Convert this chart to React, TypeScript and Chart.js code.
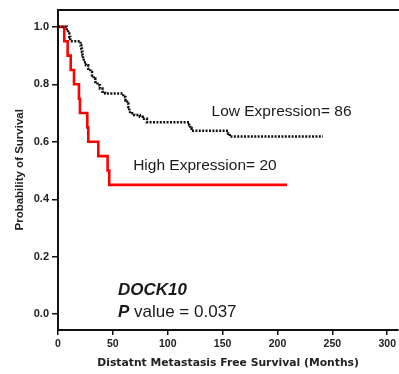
import React, { useEffect, useRef } from "react";
import { Chart, registerables } from "chart.js";

Chart.register(...registerables);

// High expression (n=20) survival steps
const highMonths = [0, 5.7, 8.8, 11.6, 14.6, 19.1, 20, 26.7, 27.6, 36.7, 45.2, 46.7, 208.6];
const highSurv = [1.0, 0.95, 0.9, 0.85, 0.8, 0.75, 0.7, 0.65, 0.6, 0.55, 0.5, 0.45, 0.45];

// Low expression (n=86) survival steps
const lowMonths = [0, 8, 9.2, 10.3, 11.2, 20.5, 21.2, 21.8, 22.3, 22.8, 23.5, 25.5, 27.5, 29.5, 31, 32.5, 34, 36, 38.2, 40.5, 43,
  59.5, 61.5, 63, 64.2, 65, 65.7, 69.5, 74.6, 77.3, 81, 119.5, 120.5, 121.7, 155, 156.5, 241.4];
const lowSurv = [1.0, 0.988, 0.977, 0.965, 0.95, 0.936, 0.925, 0.913, 0.901, 0.889, 0.877, 0.866, 0.854, 0.843, 0.831, 0.82, 0.808, 0.797, 0.785, 0.774, 0.768,
  0.756, 0.744, 0.732, 0.72, 0.708, 0.699, 0.693, 0.687, 0.68, 0.668, 0.658, 0.648, 0.638, 0.628, 0.618, 0.618];

const xTicks = [0, 50, 100, 150, 200, 250, 300];
const yTicks = [0.0, 0.2, 0.4, 0.6, 0.8, 1.0];

const lowLabel = "Low Expression= 86";
const highLabel = "High Expression= 20";
const geneLabel = "DOCK10";
const pLabel = "P";
const pValueLabel = " value = 0.037";
const xTitle = "Distatnt Metastasis Free Survival (Months)";
const yTitle = "Probability of Survival";

export default function App() {
  const ref = useRef<HTMLCanvasElement | null>(null);
  useEffect(() => {
    if (!ref.current) return;
    const textPlugin = {
      id: "texts",
      afterDatasetsDraw(chart: any) {
        const { ctx, scales } = chart;
        const x = scales.x;
        const y = scales.y;
        ctx.save();
        ctx.fillStyle = "#1a1a1a";
        ctx.textBaseline = "middle";
        ctx.textAlign = "left";
        ctx.font = "15.5px 'Liberation Sans', Arial, sans-serif";
        ctx.fillText(lowLabel, x.getPixelForValue(139.9), y.getPixelForValue(0.704));
        ctx.fillText(highLabel, x.getPixelForValue(68.5), y.getPixelForValue(0.515));
        ctx.font = "italic bold 17px 'Liberation Sans', Arial, sans-serif";
        const gx = x.getPixelForValue(54.6);
        ctx.fillText(geneLabel, gx, y.getPixelForValue(0.084));
        const py = y.getPixelForValue(0.0055);
        ctx.fillText(pLabel, gx, py);
        const pw = ctx.measureText(pLabel).width;
        ctx.font = "17px 'Liberation Sans', Arial, sans-serif";
        ctx.fillText(pValueLabel, gx + pw, py);
        ctx.restore();
      },
    };
    const chart = new Chart(ref.current, {
      type: "scatter",
      data: {
        datasets: [
          {
            label: "Low",
            data: lowMonths.map((m, i) => ({ x: m, y: lowSurv[i] })),
            showLine: true,
            stepped: true,
            borderColor: "#111111",
            borderWidth: 2.5,
            borderDash: [2, 1.4],
            pointRadius: 0,
            fill: false,
          },
          {
            label: "High",
            data: highMonths.map((m, i) => ({ x: m, y: highSurv[i] })),
            showLine: true,
            stepped: true,
            borderColor: "#ff0000",
            borderWidth: 2.6,
            pointRadius: 0,
            fill: false,
          },
        ],
      },
      options: {
        animation: false,
        responsive: false,
        layout: { padding: { top: 7, right: 0, left: 0, bottom: 0 } },
        plugins: { legend: { display: false }, tooltip: { enabled: false } },
        scales: {
          x: {
            type: "linear",
            position: "bottom",
            min: 0,
            max: 310,
            afterFit: (s: any) => { s.height = 44; },
            afterBuildTicks: (s: any) => { s.ticks = xTicks.map((v) => ({ value: v })); },
            ticks: {
              includeBounds: false,
              padding: 3,
              color: "#222",
              font: { family: "'Liberation Sans', Arial, sans-serif", size: 10.5, weight: "bold" },
              callback: (v: any) => String(v),
              maxRotation: 0,
            },
            grid: { display: true, drawOnChartArea: false, drawTicks: true, tickLength: 5, color: "#111", lineWidth: 1.5 },
            border: { display: true, color: "#111", width: 2 },
            title: {
              display: true,
              text: xTitle,
              color: "#222",
              padding: { top: 0, bottom: 4 },
              font: { family: "'DejaVu Sans', sans-serif", size: 10.8, weight: "bold" },
            },
          },
          x2: {
            type: "linear",
            position: "top",
            min: 0,
            max: 310,
            afterFit: (s: any) => { s.height = 0; },
            ticks: { display: false },
            grid: { display: false },
            border: { display: true, color: "#111", width: 2 },
          },
          y: {
            type: "linear",
            min: -0.055,
            max: 1.06,
            afterFit: (s: any) => { s.width = 58; },
            afterBuildTicks: (s: any) => { s.ticks = yTicks.map((v) => ({ value: v })); },
            ticks: {
              includeBounds: false,
              padding: 3,
              color: "#222",
              font: { family: "'Liberation Sans', Arial, sans-serif", size: 11, weight: "bold" },
              callback: (v: any) => Number(v).toFixed(1),
            },
            grid: { display: true, drawOnChartArea: false, drawTicks: true, tickLength: 6, color: "#111", lineWidth: 1.5 },
            border: { display: true, color: "#111", width: 2 },
            title: {
              display: true,
              text: yTitle,
              color: "#222",
              padding: { top: 13, bottom: 0 },
              font: { family: "'Liberation Sans', Arial, sans-serif", size: 11.5, weight: "bold" },
            },
          },
        },
      },
      plugins: [textPlugin],
    });
    return () => chart.destroy();
  }, []);
  return (
    <div style={{ position: "fixed", left: 0, top: 0, width: 399, height: 374, background: "#fff" }}>
      <canvas ref={ref} width={399} height={374} style={{ width: 399, height: 374, display: "block" }} />
    </div>
  );
}
